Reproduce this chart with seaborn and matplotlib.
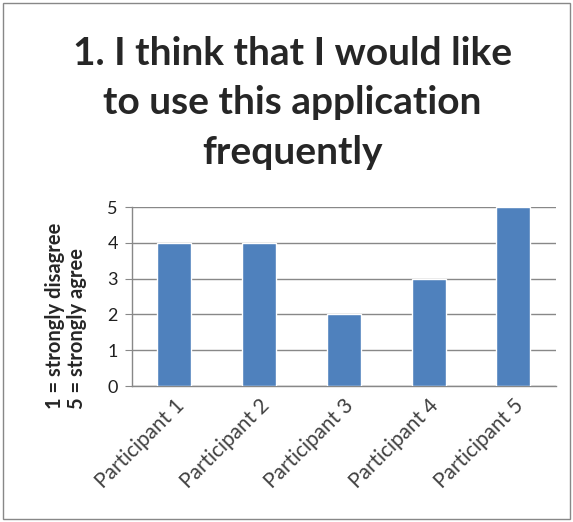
import matplotlib
matplotlib.use('Agg')
import matplotlib.pyplot as plt
import seaborn as sns
import pandas as pd
from matplotlib.patches import Rectangle

participants = ['Participant 1', 'Participant 2', 'Participant 3', 'Participant 4', 'Participant 5']
scores = [4, 4, 2, 3, 5]

df = pd.DataFrame({'participant': participants, 'score': scores})

sns.set_style('white')
plt.rcParams['font.family'] = ['Lato', 'DejaVu Sans']

fig = plt.figure(figsize=(5.73, 5.22), dpi=100)
ax = fig.add_axes([0.230, 0.2605, 0.740, 0.3429])

sns.barplot(data=df, x='participant', y='score', color='#4F81BD', width=0.4,
            saturation=1, ax=ax, zorder=3)

ax.set_ylim(0, 5)
ax.set_yticks(range(6))
ax.yaxis.grid(True, color='#888888', linewidth=1, zorder=0)
ax.set_axisbelow(True)
for s in ['top', 'right']:
    ax.spines[s].set_visible(False)
for s in ['left', 'bottom']:
    ax.spines[s].set_color('#888888')
    ax.spines[s].set_linewidth(1)
ax.tick_params(axis='y', left=True, length=5, color='#888888', labelsize=13, pad=5)
ax.tick_params(axis='x', bottom=False, labelsize=15, pad=3)
plt.setp(ax.get_xticklabels(), rotation=45, ha='right', rotation_mode='anchor', color='#404040')
plt.setp(ax.get_yticklabels(), color='#202020')
ax.set_xlabel('')
ax.set_ylabel('')

# y axis label, two rotated lines starting near the bottom of the plot
fig.text(0.115, 0.216, '1 = strongly disagree\n5 = strongly agree', rotation=90,
         ha='center', va='bottom', multialignment='left',
         fontsize=14.5, fontweight='bold', linespacing=1.15)

fig.text(0.51, 0.803, '1. I think that I would like\nto use this application\nfrequently',
         ha='center', va='center', fontsize=28, fontweight='bold', linespacing=1.5)

fig.patches.append(Rectangle((0.006, 0.006), 0.988, 0.988, transform=fig.transFigure,
                             fill=False, edgecolor='#888888', linewidth=1))

fig.savefig('out.png', dpi=100)
